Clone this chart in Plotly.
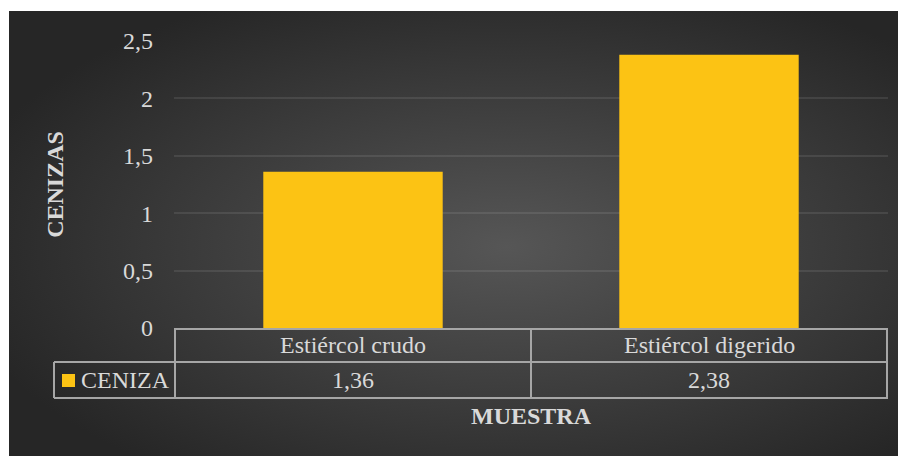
import plotly.graph_objects as go

# ---- data ----
categories = ["Estiércol crudo", "Estiércol digerido"]
ceniza = [1.36, 2.38]
series_name = "CENIZA"
y_tickvals = [0, 0.5, 1, 1.5, 2, 2.5]
x_title = "MUESTRA"
y_title = "CENIZAS"

# ---- geometry / style (screen pixels; page body has an 8px offset) ----
W, H = 906, 456
OFF = 8
PL, PR, PT, PB = 174, 888, 41, 328          # plot area on screen
L, T = PL - OFF, PT - OFF
R, B = W - (PR - OFF), H - (PB - OFF)
PW, PH = PR - PL, PB - PT


def px(x):
    return (x - PL) / PW


def py(y):
    return (PB - y) / PH


FONT = "Liberation Serif, Times New Roman, serif"
TXT = "#D9D9D9"
LINE = "#A6A6A6"
BAR = "#FCC314"
FS = 24


def fmt(v):
    return f"{v:.2f}".replace(".", ",")


fig = go.Figure()
fig.add_trace(go.Bar(
    x=categories, y=ceniza, name=series_name,
    marker=dict(color=BAR, line=dict(width=0)),
    width=0.504, showlegend=False,
))

bg_svg = (
    "data:image/svg+xml;utf8,"
    "<svg xmlns='http://www.w3.org/2000/svg' width='100' height='100' viewBox='0 0 100 100' preserveAspectRatio='none'>"
    "<defs><radialGradient id='g' cx='55%' cy='52%' r='62%'>"
    "<stop offset='0%' stop-color='%23565656'/>"
    "<stop offset='100%' stop-color='%23262626'/>"
    "</radialGradient></defs>"
    "<rect width='100' height='100' fill='url(%23g)'/></svg>"
)

shapes = []
line = dict(color=LINE, width=2)
for yy in (362, 398):
    shapes.append(dict(type="line", xref="paper", yref="paper",
                       x0=px(54), x1=1, y0=py(yy), y1=py(yy), line=line))
for xb in (-0.5, 0.5, 1.5):
    shapes.append(dict(type="line", xref="x", yref="paper",
                       x0=xb, x1=xb, y0=0, y1=py(398), line=line))
shapes.append(dict(type="line", xref="paper", yref="paper",
                   x0=px(54), x1=px(54), y0=py(362), y1=py(398), line=line))
# legend key
shapes.append(dict(type="rect", xref="paper", yref="paper",
                   x0=px(62), x1=px(75), y0=py(374), y1=py(387),
                   fillcolor=BAR, line=dict(width=0)))

annotations = []
for c, v in zip(categories, ceniza):
    annotations.append(dict(x=c, xref="x", y=py(345), yref="paper",
                            text=c, showarrow=False, yanchor="middle",
                            font=dict(family=FONT, size=FS, color=TXT)))
    annotations.append(dict(x=c, xref="x", y=py(380), yref="paper",
                            text=fmt(v), showarrow=False, yanchor="middle",
                            font=dict(family=FONT, size=FS, color=TXT)))
annotations.append(dict(x=px(79), xref="paper", y=py(380), yref="paper",
                        text=series_name, showarrow=False, xanchor="left",
                        yanchor="middle",
                        font=dict(family=FONT, size=FS, color=TXT)))

fig.update_layout(
    width=W, height=H,
    margin=dict(l=L, r=R, t=T, b=B, autoexpand=False),
    paper_bgcolor="white", plot_bgcolor="rgba(0,0,0,0)",
    separators=",.",
    font=dict(family=FONT, size=FS, color=TXT),
    bargap=0.496,
    shapes=shapes, annotations=annotations,
    images=[dict(source=bg_svg, xref="paper", yref="paper",
                 x=px(9), y=py(11), sizex=(W + OFF - 9) / PW,
                 sizey=(H + OFF - 11) / PH,
                 sizing="stretch", xanchor="left", yanchor="top",
                 layer="below")],
    xaxis=dict(
        showgrid=False, zeroline=False, showline=True, linecolor=LINE,
        linewidth=2, ticks="", showticklabels=False,
        title=dict(text=x_title, standoff=78,
                   font=dict(family=FONT, size=FS, color=TXT, weight="bold")),
    ),
    yaxis=dict(
        range=[0, 2.5], tickvals=y_tickvals, showgrid=True,
        gridcolor="rgba(255,255,255,0.09)", gridwidth=1.5, zeroline=False,
        showline=False, ticks="", ticklabelstandoff=20,
        tickfont=dict(family=FONT, size=FS, color=TXT),
        title=dict(text=y_title, standoff=52,
                   font=dict(family=FONT, size=FS, color=TXT, weight="bold")),
    ),
)

fig.write_html("out.html")
